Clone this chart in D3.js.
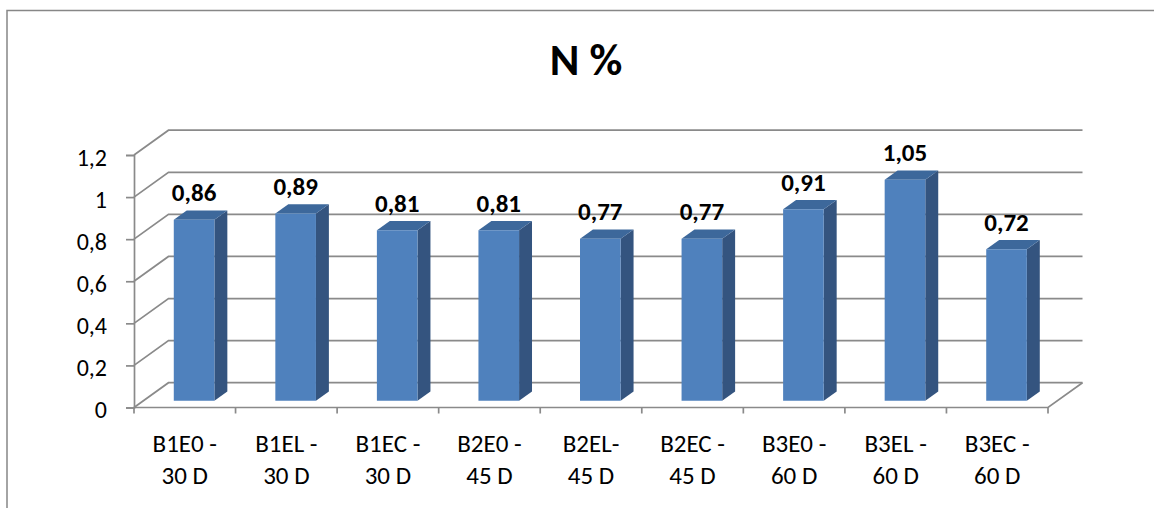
<!DOCTYPE html>
<html>
<head>
<meta charset="utf-8">
<script src="https://cdn.jsdelivr.net/npm/d3@7"></script>
<style>
  html, body { margin: 0; padding: 0; background: #fff; }
  svg { display: block; font-family: Carlito, Calibri, Lato, sans-serif; }
</style>
</head>
<body>
<svg id="chart" width="1154" height="508"></svg>
<script>
// Data
const categories = ["B1E0 - 30 D", "B1EL - 30 D", "B1EC - 30 D", "B2E0 - 45 D", "B2EL- 45 D",
                    "B2EC - 45 D", "B3E0 - 60 D", "B3EL - 60 D", "B3EC - 60 D"];
const categoryLines = [["B1E0 -", "30 D"], ["B1EL -", "30 D"], ["B1EC -", "30 D"], ["B2E0 -", "45 D"],
                       ["B2EL-", "45 D"], ["B2EC -", "45 D"], ["B3E0 -", "60 D"], ["B3EL -", "60 D"], ["B3EC -", "60 D"]];
const values = [0.86, 0.89, 0.81, 0.81, 0.77, 0.77, 0.91, 1.05, 0.72];
const yTicks = [0, 0.2, 0.4, 0.6, 0.8, 1, 1.2];
const yTickLabels = ["0", "0,2", "0,4", "0,6", "0,8", "1", "1,2"];
const title = "N %";

const svg = d3.select("#chart");

// Frame of the chart area
svg.append("path")
  .attr("d", "M7,508 L7,10.5 L1154,10.5")
  .attr("fill", "none").attr("stroke", "#878787").attr("stroke-width", 1.5);

// Plot geometry (front plane + depth vector of the 3D box)
const left = 134, right = 1048, baseY = 407.5;
const depth = { dx: 34.5, dy: -24.8 };
const barZ0 = 0.27, barZ1 = 0.645;

const x = d3.scaleBand().domain(categories).range([left, right])
  .paddingInner(0.6).paddingOuter(0.3);
const y = d3.scaleLinear().domain([0, 1.2]).range([0, 252.5]);

// Project (front x, value, depth fraction) to screen
const P = (fx, v, z) => [fx + z * depth.dx, baseY - y(v) + z * depth.dy];

const grid = svg.append("g").attr("fill", "none").attr("stroke", "#8a8a8a").attr("stroke-width", 1.7);

// Back wall gridlines and side wall diagonals
yTicks.forEach(t => {
  const a = P(left, t, 0), b = P(left, t, 1), c = P(right, t, 1);
  grid.append("path").attr("d", `M${a[0]},${a[1]} L${b[0]},${b[1]} L${c[0]},${c[1]}`);
});
// Floor front edge and right edge
{
  const a = P(left, 0, 0), b = P(right, 0, 0), c = P(right, 0, 1);
  grid.append("path").attr("d", `M${a[0]},${a[1]} L${b[0]},${b[1]} L${c[0]},${c[1]}`);
}
// Vertical value axis with ticks
const yAxis = d3.axisLeft(d3.scaleLinear().domain([0, 1.2]).range([baseY, baseY - y(1.2)]))
  .tickValues(yTicks).tickSize(8).tickFormat((d, i) => yTickLabels[i]);
const yg = svg.append("g").attr("transform", `translate(${left},0)`).call(yAxis);
yg.select(".domain").attr("stroke", "#8a8a8a").attr("stroke-width", 1.7);
yg.selectAll(".tick line").attr("stroke", "#8a8a8a").attr("stroke-width", 1.7);
yg.selectAll(".tick text")
  .attr("x", -27).attr("dy", "0.43em")
  .attr("font-family", "Carlito, Calibri, Lato, sans-serif")
  .attr("font-size", 24).attr("fill", "#000");

// Category axis ticks at band boundaries
const step = x.step();
const cg = svg.append("g").attr("stroke", "#8a8a8a").attr("stroke-width", 1.7);
d3.range(categories.length + 1).forEach(i => {
  const px = left + i * step;
  cg.append("line").attr("x1", px).attr("x2", px).attr("y1", baseY).attr("y2", baseY + 6);
});

// Category labels
const lbl = svg.append("g").attr("font-size", 25).attr("fill", "#000").attr("text-anchor", "middle");
categories.forEach((c, i) => {
  const cx = x(c) + x.bandwidth() / 2;
  const t = lbl.append("text").attr("x", cx);
  categoryLines[i].forEach((line, j) => {
    t.append("tspan").attr("x", cx).attr("y", 452 + j * 31.6).text(line);
  });
});

// Bars
const bars = svg.append("g");
const poly = pts => "M" + pts.map(p => p.join(",")).join("L") + "Z";
categories.forEach((c, i) => {
  const v = values[i];
  const x0 = x(c), x1 = x(c) + x.bandwidth();
  const fBL = P(x0, 0, barZ0), fBR = P(x1, 0, barZ0), fTL = P(x0, v, barZ0), fTR = P(x1, v, barZ0);
  const bBR = P(x1, 0, barZ1), bTL = P(x0, v, barZ1), bTR = P(x1, v, barZ1);
  bars.append("path").attr("d", poly([fBR, fTR, bTR, bBR])).attr("fill", "#34547f");
  bars.append("path").attr("d", poly([fTL, fTR, bTR, bTL])).attr("fill", "#3d689b");
  bars.append("path").attr("d", poly([fBL, fTL, fTR, fBR])).attr("fill", "#4f81bd");
  // value label above the bar
  bars.append("text")
    .attr("x", (fTL[0] + fTR[0]) / 2)
    .attr("y", bTL[1] - 9.3)
    .attr("text-anchor", "middle")
    .attr("font-size", 25).attr("font-weight", "bold").attr("fill", "#000")
    .text(String(v.toFixed(2)).replace(".", ","));
});

// Title
svg.append("text")
  .attr("x", 586).attr("y", 75)
  .attr("text-anchor", "middle")
  .attr("font-size", 45).attr("font-weight", "bold").attr("fill", "#000")
  .text(title);
</script>
</body>
</html>
